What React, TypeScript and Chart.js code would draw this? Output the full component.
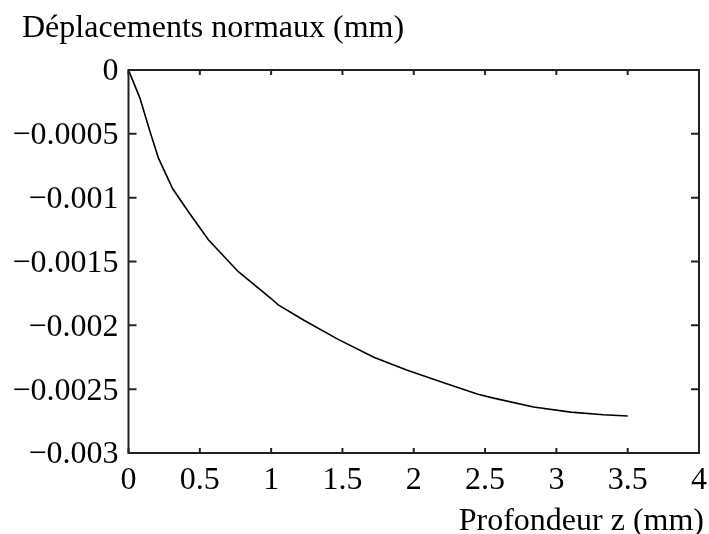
import React, { useEffect, useRef } from "react";
import { Chart, registerables } from "chart.js";

Chart.register(...registerables);

const depthZ = [0, 0.08, 0.15, 0.21, 0.31, 0.42, 0.56, 0.77, 1.0, 1.05, 1.23, 1.47, 1.72, 1.95, 2.21, 2.45, 2.56, 2.84, 3.1, 3.33, 3.5];
const displacement = [0, -0.00022, -0.00048, -0.00069, -0.00093, -0.00111, -0.00133, -0.00158, -0.00179, -0.00184, -0.00196, -0.00211, -0.00225, -0.00235, -0.00245, -0.00254, -0.00257, -0.00264, -0.00268, -0.0027, -0.00271];
const yTickValues = [0, -0.0005, -0.001, -0.0015, -0.002, -0.0025, -0.003];
const xTickValues = [0, 0.5, 1, 1.5, 2, 2.5, 3, 3.5, 4];
const yTitle = "Déplacements normaux (mm)";
const xTitle = "Profondeur z (mm)";

const FONT = '"Liberation Serif", "Times New Roman", serif';
const FONT_SIZE = 32;

const fmt = (v: number) => {
  const s = String(Math.abs(Number(v.toFixed(6))));
  return v < 0 ? "\u2212" + s : s;
};

const framePlugin = {
  id: "frame",
  afterDraw(chart: any) {
    const { ctx, chartArea } = chart;
    const { left, right, top, bottom } = chartArea;
    const xs = chart.scales.x;
    const ys = chart.scales.y;
    ctx.save();
    ctx.strokeStyle = "#222";
    ctx.lineWidth = 2;
    ctx.strokeRect(left, top, right - left, bottom - top);
    ctx.beginPath();
    xs.ticks.forEach((t: any) => {
      const px = xs.getPixelForValue(t.value);
      ctx.moveTo(px, bottom);
      ctx.lineTo(px, bottom - 5);
      ctx.moveTo(px, top);
      ctx.lineTo(px, top + 5);
    });
    ys.ticks.forEach((t: any) => {
      const py = ys.getPixelForValue(t.value);
      ctx.moveTo(left, py);
      ctx.lineTo(left + 8, py);
      ctx.moveTo(right, py);
      ctx.lineTo(right - 8, py);
    });
    ctx.stroke();
    ctx.fillStyle = "#000";
    ctx.font = `${FONT_SIZE}px ${FONT}`;
    ctx.textBaseline = "alphabetic";
    ctx.textAlign = "left";
    ctx.fillText(yTitle, 22, 37);
    ctx.textAlign = "right";
    ctx.fillText(xTitle, 704, 530);
    ctx.restore();
  },
};

export default function App() {
  const ref = useRef<HTMLCanvasElement>(null);
  useEffect(() => {
    document.body.style.margin = "0";
    const chart = new Chart(ref.current!, {
      type: "scatter",
      data: {
        datasets: [
          {
            data: depthZ.map((z, i) => ({ x: z, y: displacement[i] })),
            showLine: true,
            borderColor: "#000",
            borderWidth: 1.6,
            pointRadius: 0,
            tension: 0,
          },
        ],
      },
      options: {
        animation: false,
        responsive: true,
        maintainAspectRatio: false,
        layout: { padding: { top: 70, right: 10, left: 0, bottom: 0 } },
        plugins: { legend: { display: false }, tooltip: { enabled: false } },
        scales: {
          x: {
            type: "linear",
            min: 0,
            max: 4,
            afterBuildTicks: (s: any) => {
              s.ticks = xTickValues.map((v) => ({ value: v }));
            },
            afterFit: (s: any) => {
              s.height = 81;
              s.paddingLeft = 0;
              s.paddingRight = 0;
            },
            grid: { display: false, drawTicks: false, tickLength: 0 },
            border: { display: false },
            ticks: {
              padding: 8,
              color: "#000",
              font: { family: FONT, size: FONT_SIZE },
              maxRotation: 0,
              autoSkip: false,
              callback: (v: any) => fmt(Number(v)),
            },
          },
          y: {
            type: "linear",
            min: -0.003,
            max: 0,
            afterBuildTicks: (s: any) => {
              s.ticks = yTickValues.map((v) => ({ value: v }));
            },
            afterFit: (s: any) => {
              s.width = 128.5;
              s.paddingTop = 0;
              s.paddingBottom = 0;
            },
            grid: { display: false, drawTicks: false, tickLength: 0 },
            border: { display: false },
            ticks: {
              padding: 10,
              labelOffset: 2,
              color: "#000",
              font: { family: FONT, size: FONT_SIZE },
              autoSkip: false,
              callback: (v: any) => fmt(Number(v)),
            },
          },
        },
      },
      plugins: [framePlugin],
    });
    return () => chart.destroy();
  }, []);
  return (
    <div style={{ width: 709, height: 534, position: "relative" }}>
      <canvas ref={ref} />
    </div>
  );
}
